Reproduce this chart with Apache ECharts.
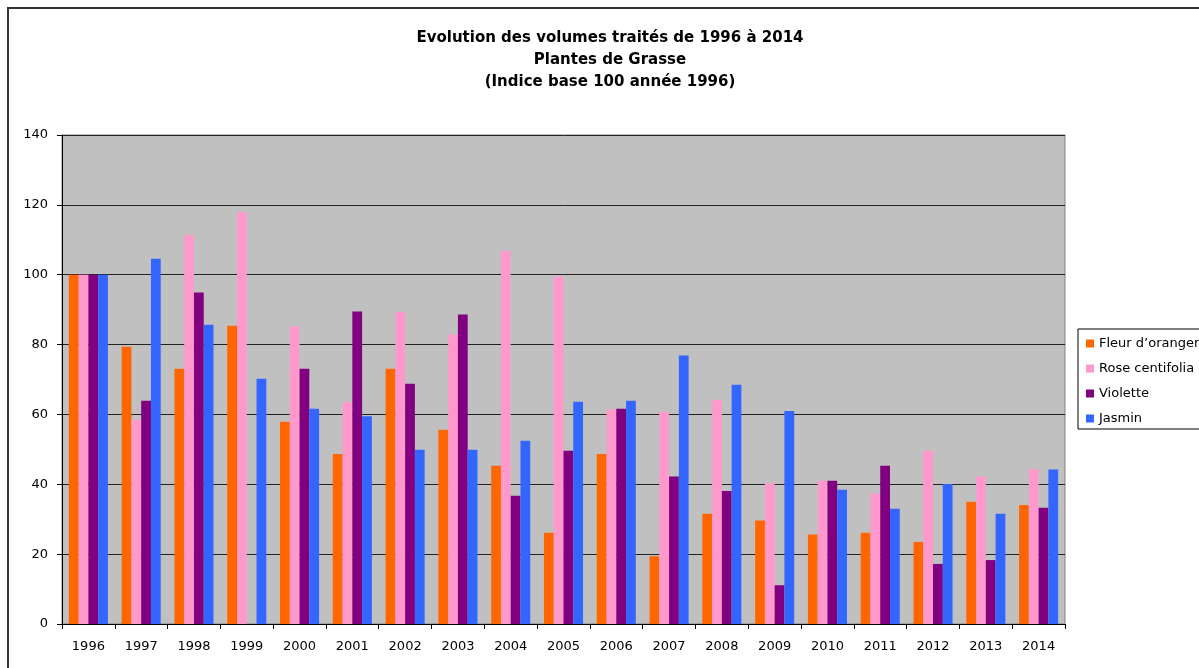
<!DOCTYPE html>
<html>
<head>
<meta charset="utf-8">
<script src="https://cdn.jsdelivr.net/npm/echarts@6/dist/echarts.min.js"></script>
<style>
  html, body { margin: 0; padding: 0; background: #fff; }
  #panel { width: 1199px; height: 668px; }
</style>
</head>
<body>
<div id="panel"></div>
<script>
var years = ['1996','1997','1998','1999','2000','2001','2002','2003','2004','2005',
             '2006','2007','2008','2009','2010','2011','2012','2013','2014'];
var fleurOranger = [100, 79.4, 73.1, 85.4, 57.9, 48.7, 73.1, 55.6, 45.3, 26.1,
                    48.7, 19.4, 31.6, 29.6, 25.6, 26.1, 23.5, 35.0, 34.1];
var roseCentifolia = [100, 58.5, 111.4, 117.9, 85.2, 63.5, 89.3, 82.9, 106.8, 99.5,
                      61.4, 60.8, 64.2, 40.3, 41.0, 37.3, 49.6, 42.2, 44.4];
var violette = [100, 63.9, 94.9, 0, 73.1, 89.5, 68.8, 88.6, 36.7, 49.6,
                61.6, 42.2, 38.1, 11.1, 41.0, 45.3, 17.2, 18.3, 33.3];
var jasmin = [100, 104.6, 85.7, 70.2, 61.6, 59.5, 49.9, 49.9, 52.5, 63.6,
              63.9, 76.9, 68.5, 61.0, 38.4, 33.0, 40.1, 31.6, 44.2];
var seriesNames = ['Fleur d\u2019oranger', 'Rose centifolia', 'Violette', 'Jasmin'];
var colors = ['#FF6600', '#FF99CC', '#800080', '#3366FF'];

var font = '"DejaVu Sans", "Liberation Sans", Arial, sans-serif';

function bar(i, values) {
    return {
        name: seriesNames[i],
        type: 'bar',
        data: values,
        barGap: '0%',
        barCategoryGap: '26%',
        itemStyle: { color: colors[i] },
        emphasis: { disabled: true }
    };
}

var options = {
    backgroundColor: '#ffffff',
    animation: false,
    textStyle: { fontFamily: font },
    title: {
        text: 'Evolution des volumes trait\u00e9s de 1996 \u00e0 2014\nPlantes de Grasse\n(Indice base 100 ann\u00e9e 1996)',
        left: 610,
        textAlign: 'center',
        top: 27,
        padding: 0,
        textStyle: { fontFamily: font, fontSize: 15, fontWeight: 'bold', color: '#000', lineHeight: 22 }
    },
    graphic: [{
        type: 'rect',
        shape: { x: 8, y: 8, width: 1400, height: 900 },
        style: { fill: 'none', stroke: '#333', lineWidth: 2 },
        silent: true
    }],
    legend: {
        orient: 'vertical',
        left: 1078,
        top: 329,
        padding: [8, 30, 4, 8],
        itemGap: 12,
        itemWidth: 8,
        itemHeight: 8,
        icon: 'rect',
        borderColor: '#000',
        borderWidth: 1,
        textStyle: { fontFamily: font, fontSize: 13, color: '#000' },
        data: seriesNames
    },
    grid: {
        left: 62, top: 135, width: 1003, height: 489,
        show: true,
        backgroundColor: '#C0C0C0',
        borderColor: '#808080',
        borderWidth: 1
    },
    xAxis: {
        type: 'category',
        data: years,
        axisLine: { lineStyle: { color: '#000', width: 1 } },
        axisTick: { show: true, alignWithLabel: false, length: 5, lineStyle: { color: '#000' } },
        axisLabel: { fontFamily: font, fontSize: 13, color: '#000', margin: 16 }
    },
    yAxis: {
        type: 'value',
        min: 0,
        max: 140,
        interval: 20,
        axisLine: { show: true, lineStyle: { color: '#000', width: 1 } },
        axisTick: { show: true, length: 5, lineStyle: { color: '#000' } },
        axisLabel: { fontFamily: font, fontSize: 13, color: '#000', margin: 14 },
        splitLine: { show: true, lineStyle: { color: '#222', width: 1 } }
    },
    series: [
        bar(0, fleurOranger),
        bar(1, roseCentifolia),
        bar(2, violette),
        bar(3, jasmin)
    ]
};

var myChart = echarts.init(document.getElementById('panel'));
myChart.setOption(options);
</script>
</body>
</html>
